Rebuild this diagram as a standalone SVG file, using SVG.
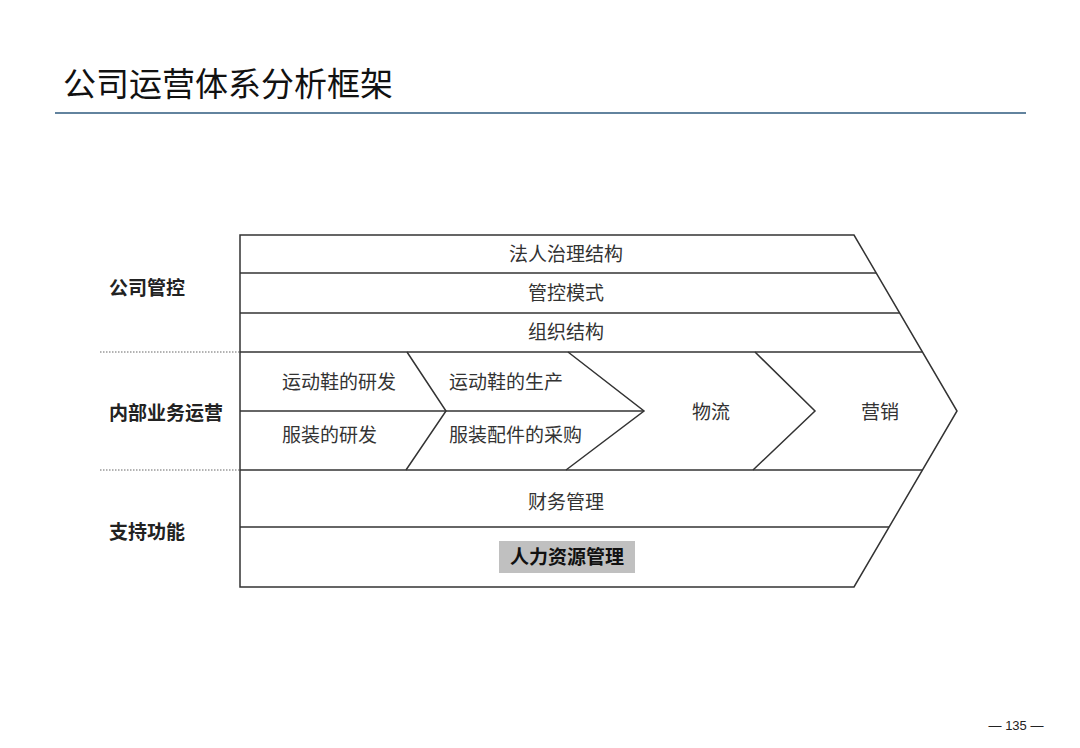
<svg xmlns="http://www.w3.org/2000/svg" width="1080" height="748" viewBox="0 0 1080 748">
<style>
.t{font-family:"Noto Sans CJK SC","Liberation Sans",sans-serif;font-size:19px;fill:#333;text-anchor:middle;dominant-baseline:central}
.ts{text-anchor:start}
.lb{font-family:"Noto Sans CJK SC","Liberation Sans",sans-serif;font-size:19px;font-weight:bold;fill:#222;dominant-baseline:central}
.ln{stroke:#333;stroke-width:1.5;fill:none}
.dot{stroke:#666;stroke-width:1;stroke-dasharray:1.5 1.5;fill:none}
</style>
<rect width="1080" height="748" fill="#fff"/>
<g id="title">
<text x="63" y="82" style="font-family:'Noto Sans CJK SC','Liberation Sans',sans-serif;font-size:33px;fill:#111;dominant-baseline:central">公司运营体系分析框架</text>
<line x1="55" y1="113" x2="1026" y2="113" stroke="#2e5a7e" stroke-width="1.5"/>
</g>
<g id="labels">
<text class="lb" x="109" y="286">公司管控</text>
<text class="lb" x="109" y="411">内部业务运营</text>
<text class="lb" x="109" y="530">支持功能</text>
<line class="dot" x1="100" y1="352" x2="240" y2="352"/>
<line class="dot" x1="100" y1="470" x2="240" y2="470"/>
</g>
<g id="connectors">
<path class="ln" d="M240,235 H854 L957,411 L854,587 H240 Z"/>
<line class="ln" x1="240" y1="273" x2="876" y2="273"/>
<line class="ln" x1="240" y1="313" x2="899.6" y2="313"/>
<line class="ln" x1="240" y1="352" x2="922.5" y2="352"/>
<line class="ln" x1="240" y1="470" x2="922.5" y2="470"/>
<line class="ln" x1="240" y1="527" x2="889" y2="527"/>
<line class="ln" x1="240" y1="411" x2="644" y2="411"/>
<polyline class="ln" points="407,352 446,411 406,470"/>
<polyline class="ln" points="568,352 644,411 566,470"/>
<polyline class="ln" points="755,352 815,411 753,470"/>
</g>
<g id="governance">
<text class="t" x="566" y="252">法人治理结构</text>
<text class="t" x="566" y="291">管控模式</text>
<text class="t" x="566" y="330">组织结构</text>
</g>
<g id="operations">
<text class="t ts" x="282" y="380">运动鞋的研发</text>
<text class="t ts" x="282" y="433">服装的研发</text>
<text class="t ts" x="449" y="380">运动鞋的生产</text>
<text class="t ts" x="449" y="433">服装配件的采购</text>
<text class="t" x="711" y="410">物流</text>
<text class="t" x="880" y="410">营销</text>
</g>
<g id="support">
<text class="t" x="566" y="500">财务管理</text>
<rect x="499" y="541" width="136" height="32" fill="#c0c0c0"/>
<text class="t" x="567" y="555.5" style="font-weight:bold;fill:#111">人力资源管理</text>
</g>
<g id="page">
<text x="1016" y="725" style="font-family:'Liberation Sans',sans-serif;font-size:13px;fill:#222;text-anchor:middle;dominant-baseline:central">— 135 —</text>
</g>
</svg>
